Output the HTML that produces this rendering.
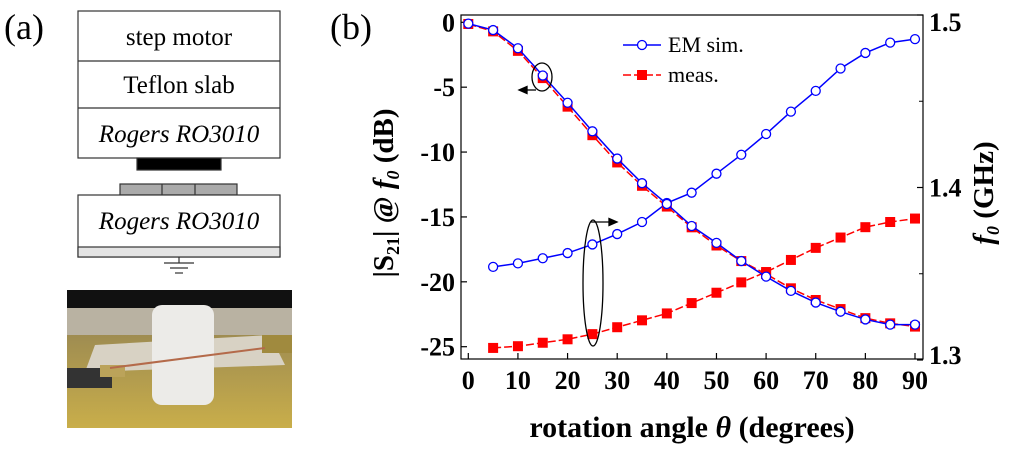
<!DOCTYPE html>
<html><head><meta charset="utf-8"><style>
html,body{margin:0;padding:0;background:#fff;}
body{width:1024px;height:463px;overflow:hidden;position:relative;}
svg, svg text{font-family:"Liberation Serif","DejaVu Serif",serif;}
</style></head><body>
<svg width="1024" height="463" viewBox="0 0 1024 463" xmlns="http://www.w3.org/2000/svg">
<defs>
<linearGradient id="tab" x1="0" y1="0" x2="0" y2="1"><stop offset="0" stop-color="#8a7c55"/><stop offset="1" stop-color="#c9ae4a"/></linearGradient>
</defs>
<g>
<text x="4" y="39" font-size="36" fill="#000">(a)</text>
<g stroke="#333" stroke-width="1.2" fill="#fff">
<rect x="78" y="11" width="202" height="147"/>
<line x1="78" y1="61" x2="280" y2="61"/><line x1="78" y1="108" x2="280" y2="108"/>
<rect x="137" y="158" width="84" height="12" fill="#000"/>
<rect x="120" y="184" width="117" height="11" fill="#aaa"/>
<line x1="162" y1="184" x2="162" y2="195"/><line x1="195" y1="184" x2="195" y2="195"/>
<rect x="78" y="195" width="202" height="62"/>
<rect x="78" y="247" width="202" height="10" fill="#e4e4e4"/>
<line x1="179" y1="257" x2="179" y2="263"/><line x1="164" y1="263" x2="194" y2="263"/><line x1="170" y1="268" x2="188" y2="268"/><line x1="175" y1="273" x2="183" y2="273"/>
</g>
<g font-size="25" text-anchor="middle" fill="#000">
<text x="179" y="45">step motor</text>
<text x="179" y="93">Teflon slab</text>
<text x="179" y="142" font-style="italic">Rogers RO3010</text>
<text x="179" y="229" font-style="italic">Rogers RO3010</text>
</g>
<g>
<rect x="67" y="290" width="225" height="138" fill="url(#tab)"/>
<rect x="67" y="290" width="225" height="45" fill="#b9b2a2"/>
<rect x="67" y="290" width="225" height="18" fill="#111"/>
<polygon points="95,345 270,335 285,365 85,372" fill="#d8d2c4"/>
<rect x="152" y="305" width="62" height="100" rx="10" fill="#ecebe8"/>
<rect x="67" y="368" width="45" height="20" fill="#333"/>
<rect x="100" y="365" width="25" height="12" fill="#bba35a"/>
<rect x="262" y="335" width="30" height="18" fill="#a08a3e"/>
<line x1="110" y1="368" x2="265" y2="348" stroke="#b46a4a" stroke-width="2"/>
</g>
</g>
<g>
<text x="330" y="39" font-size="36" fill="#000">(b)</text>
<rect x="461" y="15" width="462" height="344" fill="none" stroke="#000" stroke-width="1.2"/>
<g id="axes"></g>
<g id="marks"></g>
<text transform="translate(393,193) rotate(-90)" text-anchor="middle" font-size="29" font-weight="bold">|S<tspan font-size="18" dy="6">21</tspan><tspan dy="-6">| @ </tspan><tspan font-style="italic">f</tspan><tspan font-size="18" dy="6" font-style="italic">0</tspan><tspan dy="-6"> (dB)</tspan></text>
<text transform="translate(993,193) rotate(-90)" text-anchor="middle" font-size="29" font-weight="bold"><tspan font-style="italic">f</tspan><tspan font-size="18" dy="6" font-style="italic">0</tspan><tspan dy="-6"> (GHz)</tspan></text>
<text x="692" y="437" text-anchor="middle" font-size="30" font-weight="bold">rotation angle <tspan font-style="italic">θ</tspan> (degrees)</text>
<g>
<g><line x1="623" y1="45" x2="661" y2="45" stroke="#00f" stroke-width="1.5"/><circle cx="642" cy="45" r="4.5" fill="#fff" stroke="#00f" stroke-width="1.3"/><text x="668" y="52" font-size="22">EM sim.</text></g>
<g><line x1="623" y1="75" x2="661" y2="75" stroke="#f00" stroke-width="1.5" stroke-dasharray="8,3"/><rect x="637" y="70" width="10" height="10" fill="#f00"/><text x="668" y="82" font-size="22">meas.</text></g>
</g>
<g fill="none" stroke="#000" stroke-width="1.3">
<ellipse cx="542" cy="77" rx="10" ry="14"/>
<line x1="536" y1="90" x2="522" y2="90"/><polygon points="519,90 527,86.5 527,93.5" fill="#000"/>
<ellipse cx="593" cy="283" rx="10" ry="63"/>
<line x1="591" y1="222" x2="612" y2="222"/><polygon points="617,222 609,218.5 609,225.5" fill="#000"/>
</g>
</g>
</svg>
<script>
const angles=[0,5,10,15,20,25,30,35,40,45,50,55,60,65,70,75,80,85,90];
const s21Sim=[-0.1,-0.6,-2.0,-4.1,-6.2,-8.4,-10.5,-12.4,-14.0,-15.7,-17.0,-18.4,-19.6,-20.7,-21.6,-22.3,-22.9,-23.3,-23.3];
const s21Meas=[-0.13,-0.7,-2.2,-4.3,-6.5,-8.7,-10.8,-12.6,-14.2,-15.8,-17.2,-18.4,-19.4,-20.5,-21.4,-22.1,-22.8,-23.2,-23.45];
const fAngles=[5,10,15,20,25,30,35,40,45,50,55,60,65,70,75,80,85,90];
const fSim=[1.354,1.356,1.359,1.362,1.367,1.373,1.380,1.391,1.397,1.408,1.419,1.431,1.444,1.456,1.469,1.478,1.484,1.486];
const fMeas=[1.307,1.308,1.310,1.312,1.315,1.319,1.323,1.327,1.333,1.339,1.345,1.351,1.358,1.365,1.371,1.377,1.380,1.382];
const xTicks=[0,10,20,30,40,50,60,70,80,90];
const yLeftTicks=[0,-5,-10,-15,-20,-25];
const yRightTicks=["1.3","1.4","1.5"];
const yRightMinor=[1.35,1.45];
const NS="http://www.w3.org/2000/svg";
const X=a=>468.3+a*(915-468.3)/90;
const YL=v=>22.3+(-v)*(346.7-22.3)/25;
const YR=v=>360-(v-1.3)*(360-15)/0.2;
function mk(tag,attrs,parent){const e=document.createElementNS(NS,tag);for(const k in attrs)e.setAttribute(k,attrs[k]);parent.appendChild(e);return e;}
const ax=document.getElementById('axes');
xTicks.forEach(t=>{mk('line',{x1:X(t),y1:359,x2:X(t),y2:353,stroke:'#000','stroke-width':1.2},ax);
 const tx=mk('text',{x:X(t),y:389,'text-anchor':'middle','font-size':26,'font-weight':'bold'},ax);tx.textContent=t;
 
 });
yLeftTicks.forEach(t=>{mk('line',{x1:461,y1:YL(t),x2:467,y2:YL(t),stroke:'#000','stroke-width':1.2},ax);
 const tx=mk('text',{x:455,y:YL(t)+9,'text-anchor':'end','font-size':26,'font-weight':'bold'},ax);tx.textContent=t;
 
 });
yRightTicks.forEach(t=>{const v=parseFloat(t);const y=Math.min(Math.max(YR(v),22),355);
 mk('line',{x1:917,y1:YR(v),x2:923,y2:YR(v),stroke:'#000','stroke-width':1.2},ax);
 const tx=mk('text',{x:929,y:y+9,'font-size':26,'font-weight':'bold'},ax);tx.textContent=t;
 
 });
yRightMinor.forEach(v=>{mk('line',{x1:919,y1:YR(v),x2:923,y2:YR(v),stroke:'#000','stroke-width':1},ax);});
const mg=document.getElementById('marks');
function series(xs,ys,yf,color,dash,marker,name){
 const pts=xs.map((a,i)=>X(a)+','+yf(ys[i])).join(' ');
 const pl=mk('polyline',{points:pts,fill:'none',stroke:color,'stroke-width':1.5},mg);
 if(dash)pl.setAttribute('stroke-dasharray',dash);
 
 
 xs.forEach((a,i)=>{let m;
  if(marker==='c')m=mk('circle',{cx:X(a),cy:yf(ys[i]),r:4.5,fill:'#fff',stroke:color,'stroke-width':1.3},mg);
  else m=mk('rect',{x:X(a)-5,y:yf(ys[i])-5,width:10,height:10,fill:color},mg);
  
  });
}
series(fAngles,fMeas,YR,'#f00','8,3','s','freq-meas');
series(fAngles,fSim,YR,'#00f',null,'c','freq-sim');
series(angles,s21Meas,YL,'#f00','8,3','s','s21-meas');
series(angles,s21Sim,YL,'#00f',null,'c','s21-sim');
</script>
</body></html>
